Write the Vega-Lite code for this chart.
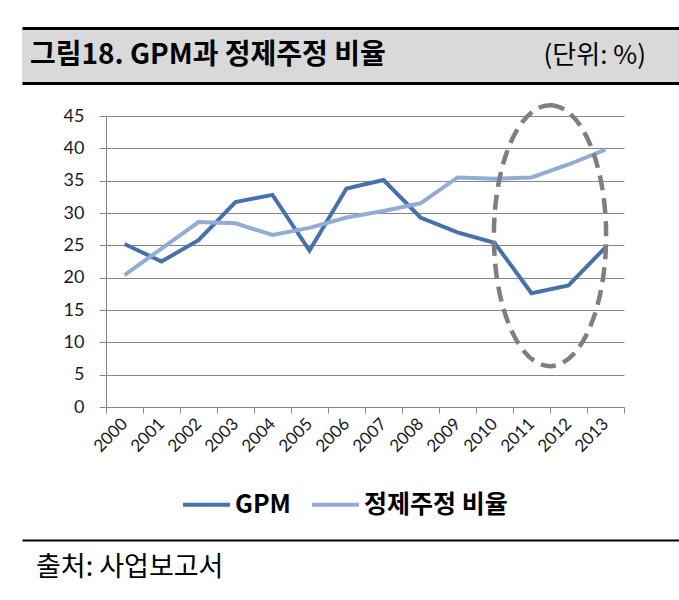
{
  "$schema": "https://vega.github.io/schema/vega-lite/v6.json",
  "background": "white",
  "padding": {"left": 22, "top": 28, "right": 0, "bottom": 0},
  "config": {"view": {"stroke": null}},
  "spacing": 13,
  "vconcat": [
    {
      "width": 657,
      "height": 55,
      "view": {"fill": "#d9d9d9", "stroke": null},
      "layer": [
        {
          "data": {"values": [{"side": "L", "label": "그림18. GPM과  정제주정  비율"}]},
          "mark": {"type": "text", "align": "left", "baseline": "middle", "font": "Noto Sans CJK KR", "fontWeight": "bold", "fontSize": 28, "color": "#000"},
          "encoding": {
            "x": {"field": "side", "type": "nominal", "scale": {"type": "point", "domain": ["L", "R"], "padding": 0.01248},
              "axis": {"orient": "top", "title": null, "labels": false, "ticks": false, "grid": false, "domain": true, "domainColor": "#000", "domainWidth": 3}},
            "y": {"datum": "m", "type": "nominal", "scale": {"type": "point", "domain": ["m"]}, "axis": null},
            "text": {"field": "label"}
          }
        },
        {
          "data": {"values": [{"side": "R", "label": "(단위: %)"}]},
          "mark": {"type": "text", "align": "right", "baseline": "middle", "font": "Noto Sans CJK KR", "fontWeight": "normal", "fontSize": 26, "color": "#000"},
          "encoding": {
            "x": {"field": "side", "type": "nominal", "scale": {"type": "point", "domain": ["L", "R"], "padding": 0.05584},
              "axis": {"orient": "bottom", "title": null, "labels": false, "ticks": false, "grid": false, "domain": true, "domainColor": "#000", "domainWidth": 3}},
            "y": {"datum": "m", "type": "nominal", "scale": {"type": "point", "domain": ["m"]}, "axis": null},
            "text": {"field": "label"}
          }
        }
      ],
      "resolve": {"scale": {"x": "independent"}, "axis": {"x": "independent"}}
    },
    {
      "hconcat": [
        {
          "width": 84,
          "height": 291,
          "data": {"values": [{"a": 1}]},
          "mark": {"type": "point", "opacity": 0},
          "encoding": {
            "x": {"datum": "m", "type": "nominal", "scale": {"type": "point", "domain": ["m"]}, "axis": null},
            "y": {"datum": "m", "type": "nominal", "scale": {"type": "point", "domain": ["m"]}, "axis": null}
          }
        },
        {
          "width": 518,
          "height": 291,
          "layer": [
            {
              "data": {"values": [
                {"year": "2000", "series": "GPM", "value": 25.2},
                {"year": "2001", "series": "GPM", "value": 22.5},
                {"year": "2002", "series": "GPM", "value": 25.8},
                {"year": "2003", "series": "GPM", "value": 31.7},
                {"year": "2004", "series": "GPM", "value": 32.8},
                {"year": "2005", "series": "GPM", "value": 24.2},
                {"year": "2006", "series": "GPM", "value": 33.8},
                {"year": "2007", "series": "GPM", "value": 35.1},
                {"year": "2008", "series": "GPM", "value": 29.3},
                {"year": "2009", "series": "GPM", "value": 27.0},
                {"year": "2010", "series": "GPM", "value": 25.4},
                {"year": "2011", "series": "GPM", "value": 17.6},
                {"year": "2012", "series": "GPM", "value": 18.8},
                {"year": "2013", "series": "GPM", "value": 24.7},
                {"year": "2000", "series": "정제주정 비율", "value": 20.4},
                {"year": "2001", "series": "정제주정 비율", "value": 24.5},
                {"year": "2002", "series": "정제주정 비율", "value": 28.6},
                {"year": "2003", "series": "정제주정 비율", "value": 28.4},
                {"year": "2004", "series": "정제주정 비율", "value": 26.6},
                {"year": "2005", "series": "정제주정 비율", "value": 27.7},
                {"year": "2006", "series": "정제주정 비율", "value": 29.3},
                {"year": "2007", "series": "정제주정 비율", "value": 30.3},
                {"year": "2008", "series": "정제주정 비율", "value": 31.5},
                {"year": "2009", "series": "정제주정 비율", "value": 35.5},
                {"year": "2010", "series": "정제주정 비율", "value": 35.3},
                {"year": "2011", "series": "정제주정 비율", "value": 35.5},
                {"year": "2012", "series": "정제주정 비율", "value": 37.5},
                {"year": "2013", "series": "정제주정 비율", "value": 39.8}
              ]},
              "mark": {"type": "line", "strokeWidth": 4},
              "encoding": {
                "x": {"field": "year", "type": "nominal", "scale": {"type": "band", "paddingInner": 0, "paddingOuter": 0},
                  "axis": {"title": ".", "titleColor": "rgba(0,0,0,0)", "titleFontSize": 10, "titlePadding": 60, "titleAnchor": "start", "minExtent": 50, "maxExtent": 50,
                    "tickBand": "extent", "tickSize": 6, "tickColor": "#868686", "domainColor": "#868686", "grid": false,
                    "labelAngle": -45, "labelBaseline": "middle", "labelFont": "Lato", "labelFontSize": 17, "labelColor": "#1a1a1a", "labelPadding": 8}},
                "y": {"field": "value", "type": "quantitative", "scale": {"domain": [0, 45], "nice": false},
                  "axis": {"title": null, "values": [0, 5, 10, 15, 20, 25, 30, 35, 40, 45], "labelOverlap": false, "grid": true, "gridColor": "#868686", "domainColor": "#868686",
                    "tickColor": "#868686", "tickSize": 7, "labelFont": "Lato", "labelFontSize": 18, "labelColor": "#1a1a1a", "labelPadding": 15}},
                "color": {"field": "series", "type": "nominal",
                  "scale": {"domain": ["GPM", "정제주정 비율"], "range": ["#4672ac", "#93acd6"]},
                  "legend": {"orient": "none", "legendX": 159, "legendY": 451, "direction": "horizontal", "title": null,
                    "symbolType": "stroke", "symbolSize": 2209, "symbolStrokeWidth": 4, "labelFont": "Noto Sans CJK KR",
                    "labelFontWeight": "bold", "labelFontSize": 25, "labelColor": "#000", "labelOffset": 3, "columnPadding": 13}}
              }
            },
            {
              "data": {"values": [{"year": "2011", "value": 26.5}]},
              "mark": {"type": "point", "shape": "M0,-1A0.43,1,0,1,1,0,1A0.43,1,0,1,1,0,-1Z", "size": 68121, "filled": false,
                "stroke": "#7f7f7f", "strokeWidth": 4.5, "strokeDash": [15, 8], "opacity": 1},
              "encoding": {
                "x": {"field": "year", "type": "nominal", "bandPosition": 1,
                  "axis": {"title": ".", "titleColor": "rgba(0,0,0,0)", "titleFontSize": 10, "titlePadding": 60, "titleAnchor": "start", "minExtent": 50, "maxExtent": 50,
                    "tickBand": "extent", "tickSize": 6, "tickColor": "#868686", "domainColor": "#868686", "grid": false,
                    "labelAngle": -45, "labelBaseline": "middle", "labelFont": "Lato", "labelFontSize": 17, "labelColor": "#1a1a1a", "labelPadding": 8}},
                "y": {"field": "value", "type": "quantitative",
                  "axis": {"title": null, "values": [0, 5, 10, 15, 20, 25, 30, 35, 40, 45], "labelOverlap": false, "grid": true, "gridColor": "#868686", "domainColor": "#868686",
                    "tickColor": "#868686", "tickSize": 7, "labelFont": "Lato", "labelFontSize": 18, "labelColor": "#1a1a1a", "labelPadding": 15}}
              }
            }
          ]
        }
      ],
      "spacing": 0,
      "bounds": "flush"
    },
    {
      "width": 657,
      "height": 56,
      "data": {"values": [{"side": "L", "label": "출처: 사업보고서"}]},
      "mark": {"type": "text", "align": "left", "baseline": "middle", "font": "Noto Sans CJK KR", "fontSize": 27, "color": "#000"},
      "encoding": {
        "x": {"field": "side", "type": "nominal", "scale": {"type": "point", "domain": ["L", "R"], "padding": 0.02226},
          "axis": {"orient": "top", "title": null, "labels": false, "ticks": false, "grid": false, "domain": true, "domainColor": "#000", "domainWidth": 2}},
        "y": {"datum": "m", "type": "nominal", "scale": {"type": "point", "domain": ["m"]}, "axis": null},
        "text": {"field": "label"}
      }
    }
  ]
}
